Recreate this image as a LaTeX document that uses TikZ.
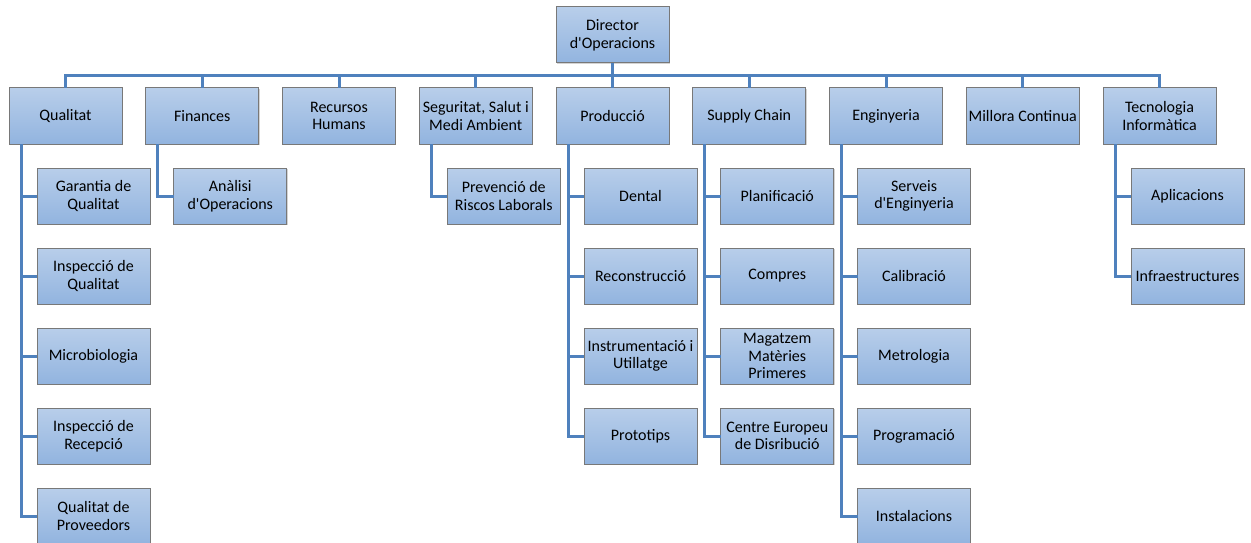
\documentclass[tikz,border=0pt]{standalone}
\usepackage{fontspec}
\setmainfont{Carlito}
\usetikzlibrary{positioning,shadows,calc}

\definecolor{boxtop}{RGB}{184,206,234}
\definecolor{boxbot}{RGB}{146,180,223}
\definecolor{boxline}{RGB}{120,120,120}
\definecolor{linkblue}{RGB}{79,129,189}

\begin{document}
\begin{tikzpicture}
    \tikzstyle{unit} = [shape=rectangle, draw=boxline, line width=1pt, top color=boxtop, bottom color=boxbot,
                        minimum width=113pt, minimum height=56pt, inner sep=0pt, outer sep=0pt, align=center,
                        font=\fontsize{16}{17.7}\selectfont,
                        drop shadow={shadow xshift=0.8pt, shadow yshift=-0.8pt, opacity=0.35}]
    \tikzstyle{link} = [draw=linkblue, line width=3pt]
    \useasboundingbox (0,0) rectangle (1251pt,-543pt);

    % nivell superior
    \node (q)  [unit] at (65.5pt,-116pt) {Qualitat};
    \node (f)  [unit, right=23.75pt of q]  {Finances};
    \node (r)  [unit, right=23.75pt of f]  {Recursos\\Humans};
    \node (s)  [unit, right=23.75pt of r]  {Seguritat, Salut i\\Medi Ambient};
    \node (p)  [unit, right=23.75pt of s]  {Producció};
    \node (sc) [unit, right=23.75pt of p]  {Supply Chain};
    \node (e)  [unit, right=23.75pt of sc] {Enginyeria};
    \node (m)  [unit, right=23.75pt of e]  {Millora Continua};
    \node (t)  [unit, right=23.75pt of m]  {Tecnologia\\Informàtica};
    \node (dir) [unit, above=25pt of p]    {Director\\d\textquotesingle Operacions};

    % Qualitat
    \node (q1) [unit, below=24pt of q, xshift=28pt] {Garantia de\\Qualitat};
    \node (q2) [unit, below=24pt of q1] {Inspecció de\\Qualitat};
    \node (q3) [unit, below=24pt of q2] {Microbiologia};
    \node (q4) [unit, below=24pt of q3] {Inspecció de\\Recepció};
    \node (q5) [unit, below=24pt of q4] {Qualitat de\\Proveedors};
    % Finances
    \node (f1) [unit, below=24pt of f, xshift=28pt] {Anàlisi\\d\textquotesingle Operacions};
    % Seguritat
    \node (s1) [unit, below=24pt of s, xshift=28pt] {Prevenció de\\Riscos Laborals};
    % Producció
    \node (p1) [unit, below=24pt of p, xshift=28pt] {Dental};
    \node (p2) [unit, below=24pt of p1] {Reconstrucció};
    \node (p3) [unit, below=24pt of p2] {Instrumentació i\\Utillatge};
    \node (p4) [unit, below=24pt of p3] {Prototips};
    % Supply Chain
    \node (sc1) [unit, below=24pt of sc, xshift=28pt] {Planificació};
    \node (sc2) [unit, below=24pt of sc1] {Compres};
    \node (sc3) [unit, below=24pt of sc2] {Magatzem\\Matèries\\Primeres};
    \node (sc4) [unit, below=24pt of sc3] {Centre Europeu\\de Disribució};
    % Enginyeria
    \node (e1) [unit, below=24pt of e, xshift=28pt] {Serveis\\d\textquotesingle Enginyeria};
    \node (e2) [unit, below=24pt of e1] {Calibració};
    \node (e3) [unit, below=24pt of e2] {Metrologia};
    \node (e4) [unit, below=24pt of e3] {Programació};
    \node (e5) [unit, below=24pt of e4] {Instalacions};
    % Tecnologia
    \node (t1) [unit, below=24pt of t, xshift=28pt] {Aplicacions};
    \node (t2) [unit, below=24pt of t1] {Infraestructures};

    % connexions del nivell superior
    \coordinate (bus) at ($(dir.south)!0.5!(p.north)$);
    \draw [link] (dir.south) -- (p.north);
    \draw [link] (q.north) |- (bus) -| (t.north);
    \foreach \n in {f,r,s,sc,e,m}
        \draw [link] (\n.north) -- (\n.north |- bus);

    % connexions dels departaments
    \draw [link] ([xshift=12pt]q.south west) |- (q5.west);
    \draw [link] ([xshift=12pt]f.south west) |- (f1.west);
    \draw [link] ([xshift=12pt]s.south west) |- (s1.west);
    \draw [link] ([xshift=12pt]p.south west) |- (p4.west);
    \draw [link] ([xshift=12pt]sc.south west) |- (sc4.west);
    \draw [link] ([xshift=12pt]e.south west) |- (e5.west);
    \draw [link] ([xshift=12pt]t.south west) |- (t2.west);
    \foreach \c in {q1,q2,q3,q4,p1,p2,p3,sc1,sc2,sc3,e1,e2,e3,e4,t1}
        \draw [link] (\c.west) -- ++(-16pt,0);
\end{tikzpicture}
\end{document}
